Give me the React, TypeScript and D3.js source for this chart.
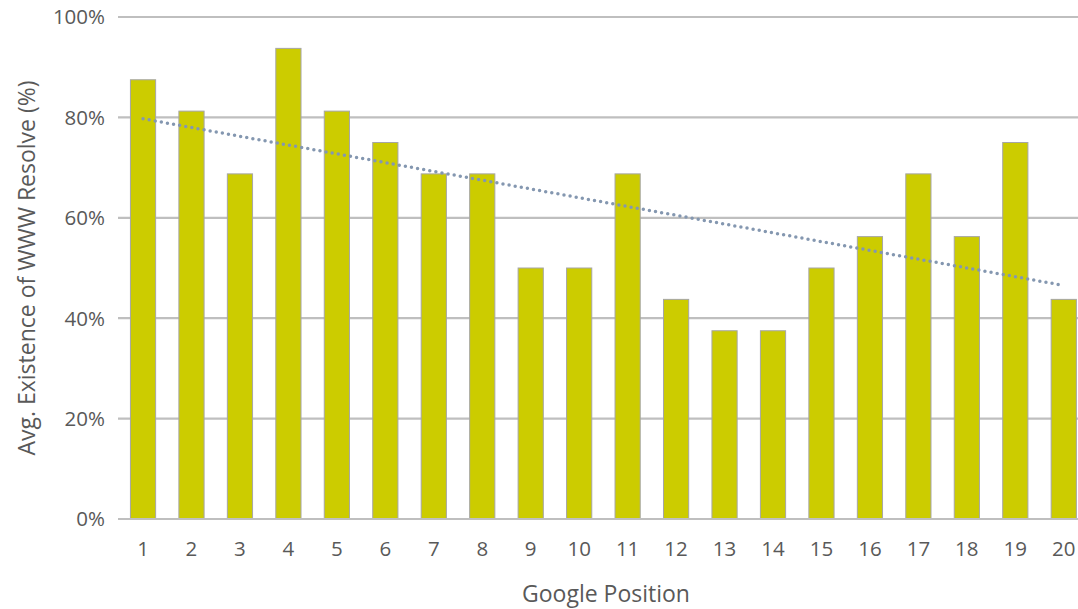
import React from "react";
import * as d3 from "d3";

// Google result positions and the average share of sites whose www host resolves
const positions: string[] = ["1","2","3","4","5","6","7","8","9","10","11","12","13","14","15","16","17","18","19","20"];
const existence: number[] = [87.5, 81.25, 68.75, 93.75, 81.25, 75, 68.75, 68.75, 50, 50, 68.75, 43.75, 37.5, 37.5, 50, 56.25, 68.75, 56.25, 75, 43.75];
const yTicks: number[] = [0, 20, 40, 60, 80, 100];

const W = 1078;
const H = 609;
const FONT = "'Open Sans', 'Noto Sans', sans-serif";

export default function App() {
  const x = d3.scaleBand<string>()
    .domain(positions)
    .range([118.8, 1088])
    .paddingInner(0.48)
    .paddingOuter(0.24);
  const y = d3.scaleLinear().domain([0, 100]).range([519, 17]);

  // least-squares linear trend across positions
  const idx = existence.map((_, i) => i + 1);
  const mx = d3.mean(idx)!;
  const my = d3.mean(existence)!;
  const slope =
    d3.sum(idx, (v, i) => (v - mx) * (existence[i] - my)) /
    d3.sum(idx, (v) => (v - mx) * (v - mx));
  const intercept = my - slope * mx;
  const trend = idx.map((v, i) => ({ cat: positions[i], val: intercept + slope * v }));
  const line = d3.line<{ cat: string; val: number }>()
    .x((d) => x(d.cat)! + x.bandwidth() / 2)
    .y((d) => y(d.val));
  const trendPts = [trend[0], trend[trend.length - 1]];

  return (
    <svg width={W} height={H} style={{ position: "absolute", left: 0, top: 0, display: "block", background: "#fff" }}>
      {yTicks.map((t) => (
        <g key={t}>
          <line x1={118} x2={1090} y1={y(t)} y2={y(t)} stroke="#bfbfbf" strokeWidth={2.2} />
          <text x={105} y={y(t)} dy="0.36em" textAnchor="end" fontFamily={FONT} fontSize={20.5} fill="#595959">
            {t}%
          </text>
        </g>
      ))}
      {positions.map((p, i) => (
        <rect
          key={p}
          x={x(p)!}
          y={y(existence[i])}
          width={x.bandwidth()}
          height={y(0) - y(existence[i])}
          fill="#cccc00"
          stroke="#a6a6a6"
          strokeWidth={1}
        />
      ))}
      <line x1={118} x2={1090} y1={y(0)} y2={y(0)} stroke="#bfbfbf" strokeWidth={2.2} />
      <path
        d={line(trendPts)!}
        fill="none"
        stroke="#8497b0"
        strokeWidth={3.5}
        strokeLinecap="round"
        strokeDasharray="0 6.2"
      />
      {positions.map((p) => (
        <text key={p} x={x(p)! + x.bandwidth() / 2} y={549} dy="0.36em" textAnchor="middle" fontFamily={FONT} fontSize={20.5} fill="#595959">
          {p}
        </text>
      ))}
      <text x={606} y={594} dy="0.36em" textAnchor="middle" fontFamily={FONT} fontSize={23} fill="#595959">
        Google Position
      </text>
      <text
        transform={`translate(27,${y(50)}) rotate(-90)`}
        dy="0.36em"
        textAnchor="middle"
        fontFamily={FONT}
        fontSize={23}
        fill="#595959"
      >
        Avg. Existence of WWW Resolve (%)
      </text>
    </svg>
  );
}
